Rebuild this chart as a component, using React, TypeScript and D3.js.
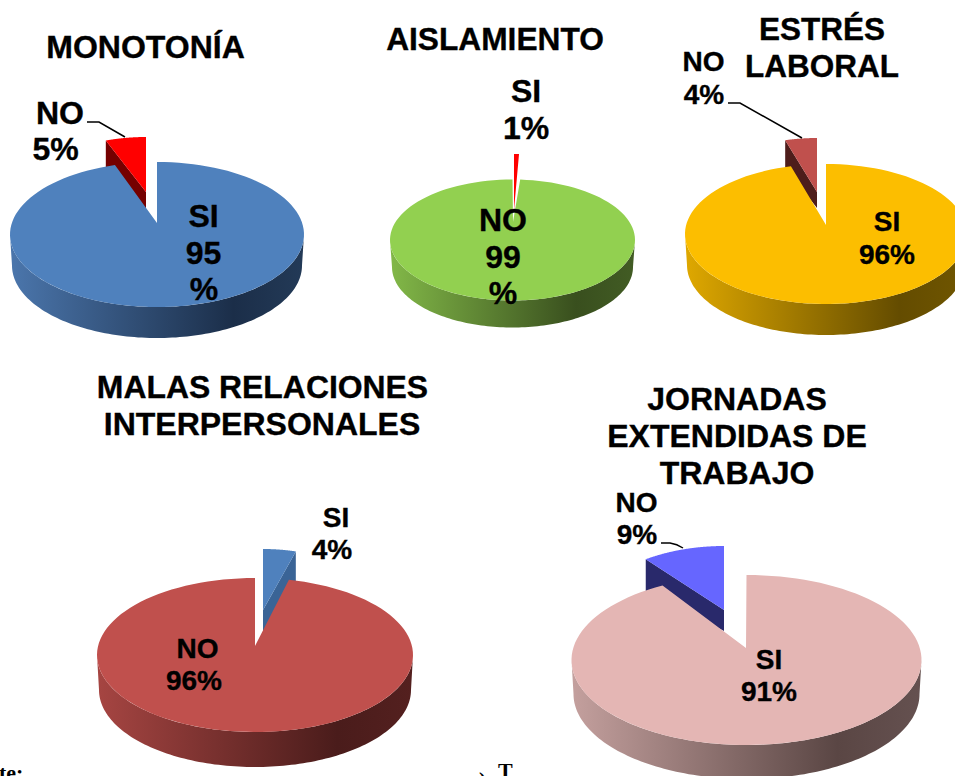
import React from "react";
import * as d3 from "d3";

// ---- data: [SI, NO] shares
const monotonia = [95, 5];
const aislamiento = [1, 99];
const estres = [96, 4];
const relaciones = [4, 96];
const jornadas = [91, 9];

const siLabels = ["SI", "NO"];

// ---- layout
type Wedge = { cx: number; cy: number; rx: number; ry: number; ax: number; ay: number };
type Cfg = {
  id: string;
  values: number[];
  big: number;
  main: Wedge;
  depth: number;
  trim: number; // perspective correction of the inner edge of the large slice (radians)
  slice: Wedge & { dOuter: number; dInner: number };
  sliceOnTop?: boolean;
  top: string;
  sideA: string;
  sideB: string;
  sideC: string;
  sliceTop: string;
  sliceSide: string;
};

const charts: Cfg[] = [
  {
    id: "p1", values: monotonia, big: 0, trim: 0.024,
    main: { cx: 157, cy: 234.5, rx: 147, ry: 72.5, ax: 157, ay: 223 }, depth: 31,
    slice: { cx: 146, cy: 209, rx: 130, ry: 72, ax: 146, ay: 192, dOuter: 27, dInner: 17 },
    top: "#4F81BD", sideA: "#4B76AC", sideB: "#1B2E49", sideC: "#233A57", sliceTop: "#FF0000", sliceSide: "#750000",
  },
  {
    id: "p2", values: aislamiento, big: 1, trim: 0,
    main: { cx: 512.5, cy: 240, rx: 122.5, ry: 60.5, ax: 513, ay: 222 }, depth: 27,
    slice: { cx: 514, cy: 214, rx: 80, ry: 60, ax: 514, ay: 210, dOuter: 0, dInner: 0 }, sliceOnTop: true,
    top: "#92D050", sideA: "#82B848", sideB: "#394F1E", sideC: "#425C24", sliceTop: "#FF0000", sliceSide: "#750000",
  },
  {
    id: "p3", values: estres, big: 0, trim: 0,
    main: { cx: 826, cy: 234, rx: 141, ry: 70, ax: 826, ay: 225 }, depth: 31,
    slice: { cx: 817, cy: 208, rx: 128, ry: 70, ax: 817, ay: 192, dOuter: 27, dInner: 16 },
    top: "#FCBE00", sideA: "#DFA800", sideB: "#644C00", sideC: "#705600", sliceTop: "#C0504D", sliceSide: "#4E1D1B",
  },
  {
    id: "p4", values: relaciones, big: 1, trim: -0.035,
    main: { cx: 255, cy: 655, rx: 158, ry: 77, ax: 255, ay: 646 }, depth: 35,
    slice: { cx: 263, cy: 626, rx: 132, ry: 77, ax: 263, ay: 610, dOuter: 50, dInner: 22 },
    top: "#C0504D", sideA: "#A64542", sideB: "#4A1C1B", sideC: "#54201F", sliceTop: "#4F81BD", sliceSide: "#3A6496",
  },
  {
    id: "p5", values: jornadas, big: 0, trim: 0.065,
    main: { cx: 746.5, cy: 660, rx: 175, ry: 85, ax: 746, ay: 648 }, depth: 34,
    slice: { cx: 724, cy: 631, rx: 146, ry: 85, ax: 724, ay: 610, dOuter: 32, dInner: 21 },
    top: "#E4B6B4", sideA: "#C4A09E", sideB: "#5A4644", sideC: "#655150", sliceTop: "#6666FF", sliceSide: "#29296B",
  },
];

type T = { t: string; x: number; y: number; s: number };
const titles: T[] = [
  { t: "MONOTONÍA", x: 145.5, y: 58, s: 32 },
  { t: "AISLAMIENTO", x: 495, y: 50, s: 31.7 },
  { t: "ESTRÉS", x: 822, y: 40, s: 31.5 },
  { t: "LABORAL", x: 822, y: 77, s: 31.5 },
  { t: "MALAS RELACIONES", x: 262.5, y: 398, s: 31.9 },
  { t: "INTERPERSONALES", x: 262, y: 435, s: 32 },
  { t: "JORNADAS", x: 737, y: 410, s: 32 },
  { t: "EXTENDIDAS DE", x: 737, y: 447, s: 32 },
  { t: "TRABAJO", x: 737, y: 484, s: 32 },
];

const pct = (v: number) => `${v}%`;
const labels: T[] = [
  { t: siLabels[1], x: 60, y: 124, s: 32 },
  { t: pct(monotonia[1]), x: 55.5, y: 160, s: 32 },
  { t: siLabels[0], x: 203.5, y: 227, s: 32 },
  { t: String(monotonia[0]), x: 203.5, y: 264, s: 32 },
  { t: "%", x: 204, y: 300, s: 32 },
  { t: siLabels[0], x: 526, y: 102, s: 32 },
  { t: pct(aislamiento[0]), x: 526, y: 139, s: 32 },
  { t: siLabels[1], x: 503, y: 231, s: 32 },
  { t: String(aislamiento[1]), x: 503, y: 268, s: 32 },
  { t: "%", x: 503, y: 304, s: 32 },
  { t: siLabels[1], x: 703.5, y: 71, s: 28 },
  { t: pct(estres[1]), x: 704, y: 104, s: 28 },
  { t: siLabels[0], x: 887, y: 231, s: 28 },
  { t: pct(estres[0]), x: 887, y: 264, s: 28 },
  { t: siLabels[0], x: 336, y: 527, s: 28 },
  { t: pct(relaciones[0]), x: 332, y: 559, s: 28 },
  { t: siLabels[1], x: 197.5, y: 658, s: 28 },
  { t: pct(relaciones[1]), x: 194, y: 690, s: 28 },
  { t: siLabels[1], x: 636.5, y: 512, s: 28 },
  { t: pct(jornadas[1]), x: 637, y: 544, s: 28 },
  { t: siLabels[0], x: 769, y: 669, s: 28 },
  { t: pct(jornadas[0]), x: 769, y: 701, s: 28 },
];

const leaders: [number, number][][] = [
  [[87, 122], [99, 122], [125, 137]],
  [[728, 103], [740, 103], [802, 138]],
];
const curvedLeader = "M661,543 L670,543 Q677,544 683,548";

// ---- geometry helpers
const line = d3.line();
const pieGen = d3.pie<number>().sort(null).value((d) => d);

const onEllipse = (w: { cx: number; cy: number; rx: number; ry: number }, a: number, dy = 0, shrink = 0): [number, number] => [
  w.cx + (w.rx - shrink) * Math.sin(a),
  w.cy + dy - w.ry * Math.cos(a),
];

const arcPts = (w: Wedge, a0: number, a1: number, dy = 0, shrink = 0) =>
  d3.range(0, 121).map((i) => onEllipse(w, d3.scaleLinear([0, 120], [a0, a1])(i), dy, shrink));

const wedgePath = (w: Wedge, a0: number, a1: number) =>
  line([[w.ax, w.ay], ...arcPts(w, a0, a1)])! + "Z";

const sidePath = (w: Wedge, depth: number) =>
  line([
    ...arcPts(w, Math.PI / 2, (3 * Math.PI) / 2),
    ...arcPts(w, (3 * Math.PI) / 2, Math.PI / 2, depth, 2),
  ])! + "Z";

function Pie({ c }: { c: Cfg }) {
  const arcs = pieGen(c.values);
  const bigArc = arcs[c.big];
  const smallArc = arcs[1 - c.big];
  const s = c.slice;
  const hiddenEdge = c.big === 0 ? smallArc.startAngle : smallArc.endAngle;
  const outer = onEllipse(s, hiddenEdge);
  const bigStart = bigArc.startAngle + (c.big === 1 ? c.trim : 0);
  const bigEnd = bigArc.endAngle + (c.big === 0 ? c.trim : 0);
  const smallParts = (
    <g>
      {s.dOuter > 0 && (
        <path
          d={line([outer, [s.ax, s.ay], [s.ax, s.ay + s.dInner], [outer[0], outer[1] + s.dOuter]])! + "Z"}
          fill={c.sliceSide}
        />
      )}
      <path d={wedgePath(s, smallArc.startAngle, smallArc.endAngle)} fill={c.sliceTop} />
    </g>
  );
  return (
    <g>
      <defs>
        <linearGradient id={c.id} gradientUnits="userSpaceOnUse" x1={c.main.cx - c.main.rx} x2={c.main.cx + c.main.rx} y1={0} y2={0}>
          <stop offset="0" stopColor={c.sideA} />
          <stop offset="0.76" stopColor={c.sideB} />
          <stop offset="1" stopColor={c.sideC} />
        </linearGradient>
      </defs>
      {!c.sliceOnTop && smallParts}
      <path d={sidePath(c.main, c.depth)} fill={`url(#${c.id})`} />
      <path d={wedgePath(c.main, bigStart, bigEnd)} fill={c.top} />
      {c.sliceOnTop && smallParts}
    </g>
  );
}

const font = "'Liberation Sans', Arial, sans-serif";

export default function App() {
  return (
    <svg width={955} height={776} style={{ position: "absolute", left: 0, top: 0, background: "#fff" }}>
      {charts.map((c) => <Pie key={c.id} c={c} />)}
      {leaders.map((l, i) => (
        <path key={i} d={line(l)!} fill="none" stroke="#000" strokeWidth={1.5} />
      ))}
      <path d={curvedLeader} fill="none" stroke="#000" strokeWidth={1.5} />
      <g fontFamily={font} fontWeight={700} textAnchor="middle" fill="#000" stroke="#000" strokeWidth={0.35}>
        {[...titles, ...labels].map((d, i) => (
          <text key={i} x={d.x} y={d.y} fontSize={d.s}>{d.t}</text>
        ))}
      </g>
      <g fontFamily="'Liberation Serif', serif" fontWeight={700} fill="#000" fontSize={22}>
        <text x={-1} y={780}>te:</text>
        <text x={479} y={787}>)</text>
        <text x={498} y={778}>T</text>
      </g>
    </svg>
  );
}
